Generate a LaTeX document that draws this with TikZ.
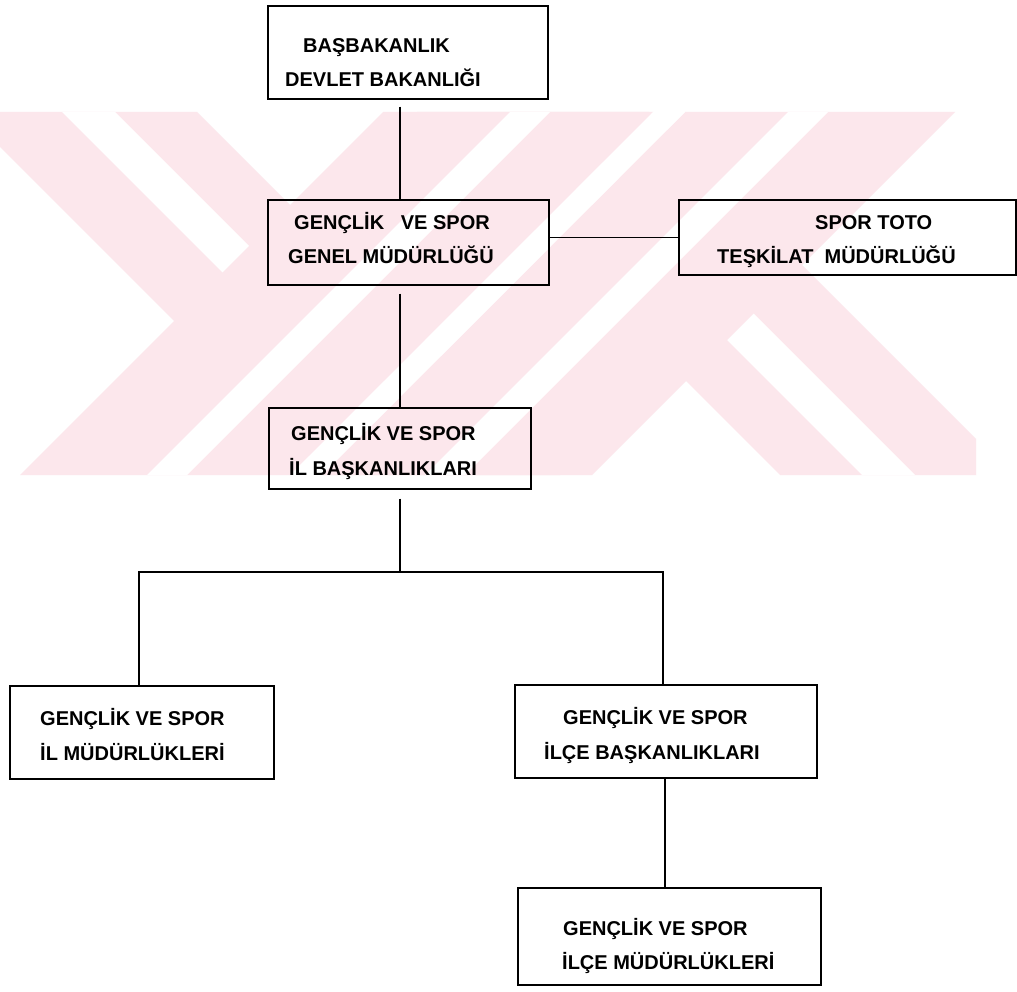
\documentclass[tikz,border=0pt]{standalone}
\usepackage{fontspec}
\setmainfont{Liberation Sans}
\definecolor{wm}{RGB}{252,231,236}
\tikzset{
  box/.style={draw=black, line width=1.7pt, inner sep=0pt, anchor=north west},
  lbl/.style={anchor=base west, inner sep=0pt, font=\fontsize{20}{24}\selectfont\bfseries},
  conn/.style={draw=black, line width=1.6pt},
}
\begin{document}
\begin{tikzpicture}[x=1pt,y=-1pt]
\useasboundingbox (0,0) rectangle (1017,992);
\fill[white] (0,0) rectangle (1017,992);
% watermark
\begin{scope}
\clip (0,112) rectangle (976,475);
\fill[wm] (-35,112)--(197,112)--(560,475)--(328,475)--cycle;
\fill[wm] (417,112)--(649,112)--(1012,475)--(780,475)--cycle;
\fill[white] (62,112)--(115,112)--(478,475)--(425,475)--cycle;
\fill[white] (499,112)--(552,112)--(915,475)--(862,475)--cycle;
\fill[wm] (383,112)--(653,112)--(290,475)--(20,475)--cycle;
\fill[wm] (685,112)--(955,112)--(592,475)--(322,475)--cycle;
\fill[white] (510,112)--(550,112)--(187,475)--(147,475)--cycle;
\fill[white] (788,112)--(828,112)--(465,475)--(425,475)--cycle;
\fill[white] (653,112)--(685,112)--(322,475)--(290,475)--cycle;
\end{scope}
% boxes
\node[box, minimum width=280pt, minimum height=93pt] (b1) at (267,5) {};
\node[box, minimum width=281pt, minimum height=85pt] (b2) at (267,199) {};
\node[box, minimum width=337pt, minimum height=75pt] (b7) at (678,199) {};
\node[box, minimum width=262pt, minimum height=81pt] (b3) at (268,407) {};
\node[box, minimum width=264pt, minimum height=93pt] (b4) at (9,685) {};
\node[box, minimum width=302pt, minimum height=93pt] (b5) at (514,684) {};
\node[box, minimum width=303pt, minimum height=97pt] (b6) at (517,887) {};
% labels
\node[lbl] (t1a) at (303,53) {BAŞBAKANLIK};
\node[lbl] (t1b) at (285,87) {DEVLET BAKANLIĞI};
\node[lbl] (t2a) at (294,230) {GENÇLİK\hspace{0.834em}VE SPOR};
\node[lbl] (t2b) at (288,264) {GENEL MÜDÜRLÜĞÜ};
\node[lbl] (t7a) at (815,230) {SPOR TOTO};
\node[lbl] (t7b) at (717,264) {TEŞKİLAT\hspace{0.556em}MÜDÜRLÜĞÜ};
\node[lbl] (t3a) at (291,440) {GENÇLİK VE SPOR};
\node[lbl] (t3b) at (289,475) {İL BAŞKANLIKLARI};
\node[lbl] (t4a) at (40,725) {GENÇLİK VE SPOR};
\node[lbl] (t4b) at (40,760) {İL MÜDÜRLÜKLERİ};
\node[lbl] (t5a) at (563,724) {GENÇLİK VE SPOR};
\node[lbl] (t5b) at (544,759) {İLÇE BAŞKANLIKLARI};
\node[lbl] (t6a) at (563,935) {GENÇLİK VE SPOR};
\node[lbl] (t6b) at (562,969) {İLÇE MÜDÜRLÜKLERİ};
% connectors
\coordinate (c1) at (400,0);
\coordinate (bus) at (400,572);
\coordinate (cl) at (139,572);
\coordinate (cr) at (663,572);
\coordinate (c6) at (665,0);
\draw[conn, shorten <=7pt] (b1.south -| c1) -- (b2.north -| c1);
\draw[conn, shorten <=8pt] (b2.south -| c1) -- (b3.north -| c1);
\draw[conn] (b2.east |- b7.west) -- (b7.west);
\draw[conn, shorten <=9pt] (b3.south -| bus) -- (bus);
\draw[conn] (b4.north -| cl) -- (cl) -- (cr) -- (b5.north -| cr);
\draw[conn] (b5.south -| c6) -- (b6.north -| c6);
\end{tikzpicture}
\end{document}
